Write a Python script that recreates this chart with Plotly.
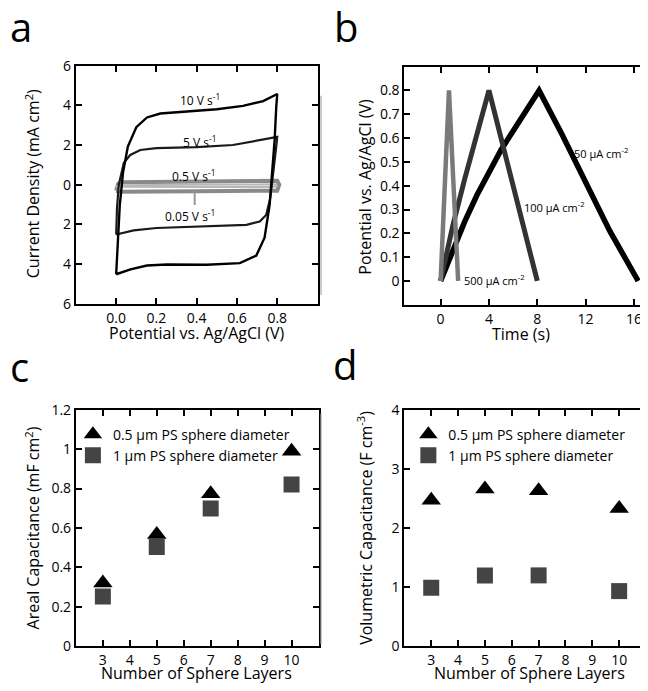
import plotly.graph_objects as go

# page body has an 8px margin: the figure is laid out in reference pixels minus 8
OFF = 8
W, H = 640, 683
FONT = "Open Sans"

# ---------------- Panel a: cyclic voltammetry ----------------
cv_labels = ["10 V s<sup>-1</sup>", "5 V s<sup>-1</sup>", "0.5 V s<sup>-1</sup>", "0.05 V s<sup>-1</sup>"]
cv10_v = [0.0, 0.008, 0.018, 0.034, 0.058, 0.1, 0.153, 0.219, 0.334, 0.5, 0.63, 0.73, 0.8,
          0.795, 0.787, 0.775, 0.762, 0.737, 0.696, 0.614, 0.449, 0.252, 0.153, 0.071, 0.0]
cv10_j = [-4.51, -2.67, -1.03, 0.61, 1.92, 2.9, 3.39, 3.59, 3.69, 3.8, 3.97, 4.21, 4.57,
          3.9, 2.25, 0.6, -1.03, -2.67, -3.57, -3.95, -4.03, -4.02, -4.07, -4.26, -4.51]
cv5_v = [0.0, 0.004, 0.013, 0.038, 0.07, 0.12, 0.2, 0.4, 0.58, 0.71, 0.8,
         0.795, 0.78, 0.765, 0.745, 0.713, 0.647, 0.416, 0.2, 0.087, 0.0]
cv5_j = [-2.51, -1.2, 0.0, 1.1, 1.5, 1.75, 1.84, 1.89, 2.0, 2.25, 2.41,
         1.92, 0.6, -0.7, -1.52, -1.85, -2.02, -2.1, -2.18, -2.3, -2.51]
cv05_v = [0.0, 0.01, 0.03, 0.4, 0.8, 0.81, 0.8, 0.4, 0.02, 0.0]
cv05_j = [-0.3, 0.05, 0.13, 0.16, 0.2, 0.0, -0.3, -0.33, -0.35, -0.3]
cv005_v = [0.0, 0.02, 0.4, 0.79, 0.8, 0.78, 0.4, 0.02, 0.0]
cv005_j = [-0.1, -0.02, 0.0, 0.02, -0.05, -0.12, -0.12, -0.13, -0.1]
cv_label_x = [0.416, 0.416, 0.384, 0.367]
cv_label_y = [4.25, 2.16, 0.44, -1.56]
cv_xticks = [0.0, 0.2, 0.4, 0.6, 0.8]
cv_xtick_text = ["0.0", "0.2", "0.4", "0.6", "0.8"]
cv_yticks = [-6, -4, -2, 0, 2, 4, 6]
cv_ytick_text = ["6", "4", "2", "0", "2", "4", "6"]

# ---------------- Panel b: galvanostatic charge/discharge ----------------
gcd_labels = ["500 \u00b5A cm<sup>-2</sup>", "100 \u00b5A cm<sup>-2</sup>", "50 \u00b5A cm<sup>-2</sup>"]
gcd500_t = [0.0, 0.69, 1.45]
gcd500_v = [0.0, 0.8, 0.0]
gcd100_t = [0.0, 1.0, 2.0, 3.0, 4.0, 6.0, 8.0]
gcd100_v = [0.0, 0.23, 0.43, 0.62, 0.8, 0.4, 0.0]
gcd50_t = [0.0, 1.0, 2.0, 3.0, 4.0, 5.0, 6.0, 7.0, 8.15, 10.0, 12.0, 14.0, 16.35]
gcd50_v = [0.0, 0.13, 0.25, 0.36, 0.46, 0.55, 0.63, 0.71, 0.8, 0.62, 0.42, 0.21, 0.0]
gcd_label_x = [1.74, 6.76, 10.9]
gcd_label_y = [0.005, 0.311, 0.537]
gcd_xticks = [0, 4, 8, 12, 16]
gcd_yticks = [0, 0.1, 0.2, 0.3, 0.4, 0.5, 0.6, 0.7, 0.8]
gcd_ytick_text = ["0", "0.1", "0.2", "0.3", "0.4", "0.5", "0.6", "0.7", "0.8"]

# ---------------- Panels c, d: capacitance vs layers ----------------
series_names = ["0.5 \u00b5m PS sphere diameter", "1 \u00b5m PS sphere diameter"]
layers = [3, 5, 7, 10]
areal_05 = [0.32, 0.567, 0.773, 0.99]
areal_1 = [0.252, 0.503, 0.699, 0.82]
vol_05 = [2.47, 2.66, 2.63, 2.33]
vol_1 = [0.985, 1.196, 1.196, 0.93]
layer_ticks = [3, 4, 5, 6, 7, 8, 9, 10]
areal_yticks = [0, 0.2, 0.4, 0.6, 0.8, 1.0, 1.2]
areal_ytick_text = ["0", "0.2", "0.4", "0.6", "0.8", "1", "1.2"]
vol_yticks = [0, 1, 2, 3, 4]


def px(x):
    return (x - OFF) / W


def py(y):
    return 1 - (y - OFF) / H


fig = go.Figure()

# Panel a traces
fig.add_trace(go.Scatter(x=cv05_v, y=cv05_j, mode="lines", line=dict(color="#8a8a8a", width=4),
                         xaxis="x", yaxis="y", showlegend=False))
fig.add_trace(go.Scatter(x=cv005_v, y=cv005_j, mode="lines", line=dict(color="#b8b8b8", width=2),
                         xaxis="x", yaxis="y", showlegend=False))
fig.add_trace(go.Scatter(x=cv5_v, y=cv5_j, mode="lines", line=dict(color="#1a1a1a", width=2.2),
                         xaxis="x", yaxis="y", showlegend=False))
fig.add_trace(go.Scatter(x=cv10_v, y=cv10_j, mode="lines", line=dict(color="#000000", width=2.4),
                         xaxis="x", yaxis="y", showlegend=False))

# Panel b traces
fig.add_trace(go.Scatter(x=gcd50_t, y=gcd50_v, mode="lines", line=dict(color="#000000", width=5.5),
                         xaxis="x2", yaxis="y2", showlegend=False))
fig.add_trace(go.Scatter(x=gcd100_t, y=gcd100_v, mode="lines", line=dict(color="#333333", width=5),
                         xaxis="x2", yaxis="y2", showlegend=False))
fig.add_trace(go.Scatter(x=gcd500_t, y=gcd500_v, mode="lines", line=dict(color="#7a7a7a", width=4.5),
                         xaxis="x2", yaxis="y2", showlegend=False))

# Panel c traces
fig.add_trace(go.Scatter(x=layers, y=areal_1, mode="markers", name=series_names[1],
                         marker=dict(symbol="square", size=16, color="#444444"),
                         xaxis="x3", yaxis="y3", legend="legend", legendrank=2))
fig.add_trace(go.Scatter(x=layers, y=areal_05, mode="markers", name=series_names[0],
                         marker=dict(symbol="triangle-up", size=17, color="#000000"),
                         xaxis="x3", yaxis="y3", legend="legend", legendrank=1))
# Panel d traces
fig.add_trace(go.Scatter(x=layers, y=vol_1, mode="markers", name=series_names[1],
                         marker=dict(symbol="square", size=16, color="#444444"),
                         xaxis="x4", yaxis="y4", legend="legend2", legendrank=2))
fig.add_trace(go.Scatter(x=layers, y=vol_05, mode="markers", name=series_names[0],
                         marker=dict(symbol="triangle-up", size=17, color="#000000"),
                         xaxis="x4", yaxis="y4", legend="legend2", legendrank=1))


def axis_style():
    return dict(showline=True, linecolor="black", linewidth=2, mirror="ticks",
                ticks="inside", ticklen=6, tickwidth=2, tickcolor="black",
                showgrid=False, zeroline=False,
                tickfont=dict(family=FONT, size=14, color="black"))


fig.update_layout(
    width=W, height=H, margin=dict(l=0, r=0, t=0, b=0),
    paper_bgcolor="white", plot_bgcolor="white",
    font=dict(family=FONT, color="black"),
    xaxis=dict(domain=[px(76), px(318)], range=[-0.2, 1.0], tickmode="array",
               tickvals=cv_xticks, ticktext=cv_xtick_text, anchor="y", **axis_style()),
    yaxis=dict(domain=[py(302), py(57)], range=[-6, 6], tickmode="array",
               tickvals=cv_yticks, ticktext=cv_ytick_text, anchor="x", **axis_style()),
    xaxis2=dict(domain=[px(405), px(647)], range=[-3, 17], tickmode="array",
                tickvals=gcd_xticks, anchor="y2", **axis_style()),
    yaxis2=dict(domain=[py(303), py(58)], range=[-0.1, 0.9], tickmode="array",
                tickvals=gcd_yticks, ticktext=gcd_ytick_text, anchor="x2", **axis_style()),
    xaxis3=dict(domain=[px(76), px(319)], range=[2, 11], tickmode="array",
                tickvals=layer_ticks, anchor="y3", **axis_style()),
    yaxis3=dict(domain=[py(654), py(411)], range=[0, 1.2], tickmode="array",
                tickvals=areal_yticks, ticktext=areal_ytick_text, anchor="x3", **axis_style()),
    xaxis4=dict(domain=[px(405), px(647)], range=[2, 11], tickmode="array",
                tickvals=layer_ticks, anchor="y4", **axis_style()),
    yaxis4=dict(domain=[py(654), py(411)], range=[0, 4], tickmode="array",
                tickvals=vol_yticks, anchor="x4", **axis_style()),
    legend=dict(x=px(73), y=py(420), xanchor="left", yanchor="top", bgcolor="rgba(0,0,0,0)",
                font=dict(family=FONT, size=14, color="black"), tracegroupgap=0, itemclick=False),
    legend2=dict(x=px(409), y=py(420), xanchor="left", yanchor="top", bgcolor="rgba(0,0,0,0)",
                 font=dict(family=FONT, size=14, color="black"), tracegroupgap=0, itemclick=False),
)

ann = []
# curve labels panel a
for t, xv, yv in zip(cv_labels, cv_label_x, cv_label_y):
    ann.append(dict(text=t, x=xv, y=yv, xref="x", yref="y", showarrow=False,
                    font=dict(family=FONT, size=12, color="black")))
# pointer for 0.05 V/s label
ann.append(dict(text="", x=0.39, y=-0.3, xref="x", yref="y", ax=0.39, ay=-1.1, axref="x", ayref="y",
                showarrow=True, arrowhead=0, arrowwidth=2, arrowcolor="#999999"))
# curve labels panel b
for t, xv, yv in zip(gcd_labels, gcd_label_x, gcd_label_y):
    ann.append(dict(text=t, x=xv, y=yv, xref="x2", yref="y2", showarrow=False, xanchor="left",
                    font=dict(family=FONT, size=11, color="black")))

# axis titles
titles = [
    ("Potential vs. Ag/AgCl (V)", 197, 332, 0),
    ("Current Density (mA cm<sup>2</sup>)", 33, 178, -90),
    ("Time (s)", 522, 333, 0),
    ("Potential vs. Ag/AgCl (V)", 366, 181, -90),
    ("Number of Sphere Layers", 197, 682, 0),
    ("Areal Capacitance (mF cm<sup>2</sup>)", 33, 532, -90),
    ("Number of Sphere Layers", 530, 682, 0),
    ("Volumetric Capacitance (F cm<sup>-3</sup>)", 366, 532, -90),
]
for t, x, y, rot in titles:
    ann.append(dict(text=t, x=px(x), y=py(y), xref="paper", yref="paper", showarrow=False,
                    textangle=rot, xanchor="center", yanchor="middle",
                    font=dict(family=FONT, size=16, color="black")))

# panel letters
for t, x, y in [("a", 21, 17), ("b", 347, 17), ("c", 20, 366), ("d", 346, 364)]:
    ann.append(dict(text=t, x=px(x), y=py(y), xref="paper", yref="paper", showarrow=False,
                    xanchor="center", yanchor="middle",
                    font=dict(family=FONT, size=40, color="black")))

fig.update_layout(annotations=ann)

# thin gray edge lines seen at left of panels b and d
fig.update_layout(shapes=[
    dict(type="line", xref="paper", yref="paper", x0=px(321.5), x1=px(321.5), y0=py(88), y1=py(293),
         line=dict(color="#aaaaaa", width=1.2)),
    dict(type="line", xref="paper", yref="paper", x0=px(321.5), x1=px(321.5), y0=py(415), y1=py(652),
         line=dict(color="#aaaaaa", width=1.2)),
])

fig.write_html("out.html")
